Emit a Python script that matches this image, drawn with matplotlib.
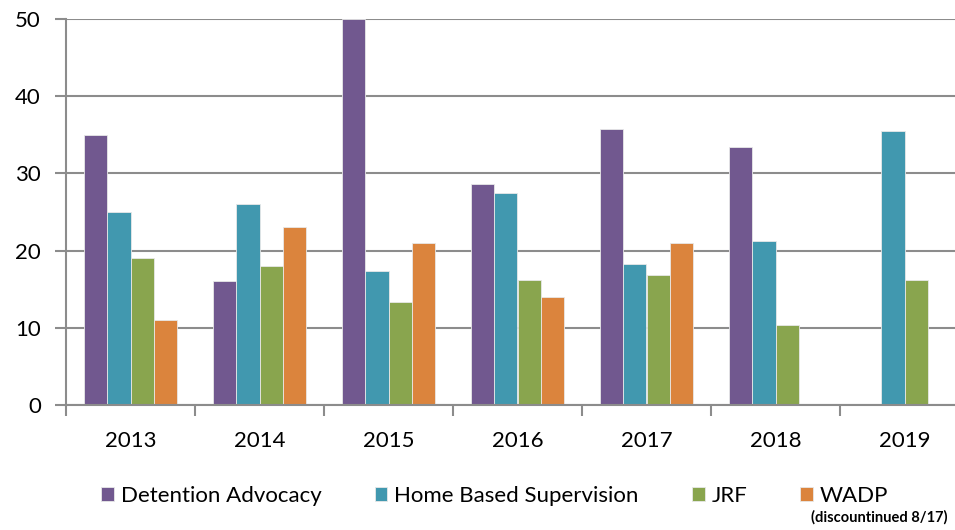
import matplotlib.pyplot as plt
import numpy as np

# data
years = ['2013', '2014', '2015', '2016', '2017', '2018', '2019']
detention_advocacy = [35, 16, 50, 28.6, 35.7, 33.4, np.nan]
home_based = [25, 26, 17.3, 27.4, 18.3, 21.2, 35.5]
jrf = [19, 18, 13.4, 16.2, 16.9, 10.4, 16.2]
wadp = [11, 23, 21, 14, 21, np.nan, np.nan]

series = [('Detention Advocacy', detention_advocacy, '#71588F'),
          ('Home Based Supervision', home_based, '#4198AF'),
          ('JRF', jrf, '#89A54E'),
          ('WADP', wadp, '#DB843D')]

plt.rcParams['font.family'] = ['Lato', 'DejaVu Sans']

fig = plt.figure(figsize=(9.55, 5.30), dpi=100)
ax = fig.add_axes([66 / 955, 125 / 530, 903 / 955, 386 / 530])

x = np.arange(len(years))
w = 0.182
for i, (name, vals, col) in enumerate(series):
    ax.bar(x + (i - 1.5) * w, vals, w, color=col, edgecolor='#e8e8e8',
           linewidth=0.6, label=name, zorder=3)

ax.set_xlim(-0.5, 6.5)
ax.set_ylim(0, 50)
ax.set_yticks(range(0, 51, 10))
ax.yaxis.grid(True, color='#8c8c8c', linewidth=1.5, zorder=0)
ax.set_xticks(x)
ax.set_xticklabels(years)
ax.set_xticks(np.arange(-0.5, 7, 1), minor=True)
ax.tick_params(axis='x', which='major', length=0, labelsize=16, pad=19)
ax.tick_params(axis='x', which='minor', length=8, width=1.5, color='#8c8c8c')
ax.tick_params(axis='y', length=8, width=1.5, color='#8c8c8c', labelsize=16, pad=10)

for s in ['top', 'right']:
    ax.spines[s].set_visible(False)
for s in ['left', 'bottom']:
    ax.spines[s].set_color('#8c8c8c')
    ax.spines[s].set_linewidth(1.5)
    ax.spines[s].set_zorder(4)

fig.legend(loc='center', bbox_to_anchor=(0.518, 0.064), ncol=4, frameon=False,
           fontsize=16, handlelength=0.58, handleheight=0.58, handletextpad=0.3,
           columnspacing=2.4, borderpad=0)
fig.text(0.992, 0.024, '(discountinued 8/17)', ha='right', va='center',
         fontsize=10.5, fontweight='bold')

plt.savefig('out.png', dpi=100)
